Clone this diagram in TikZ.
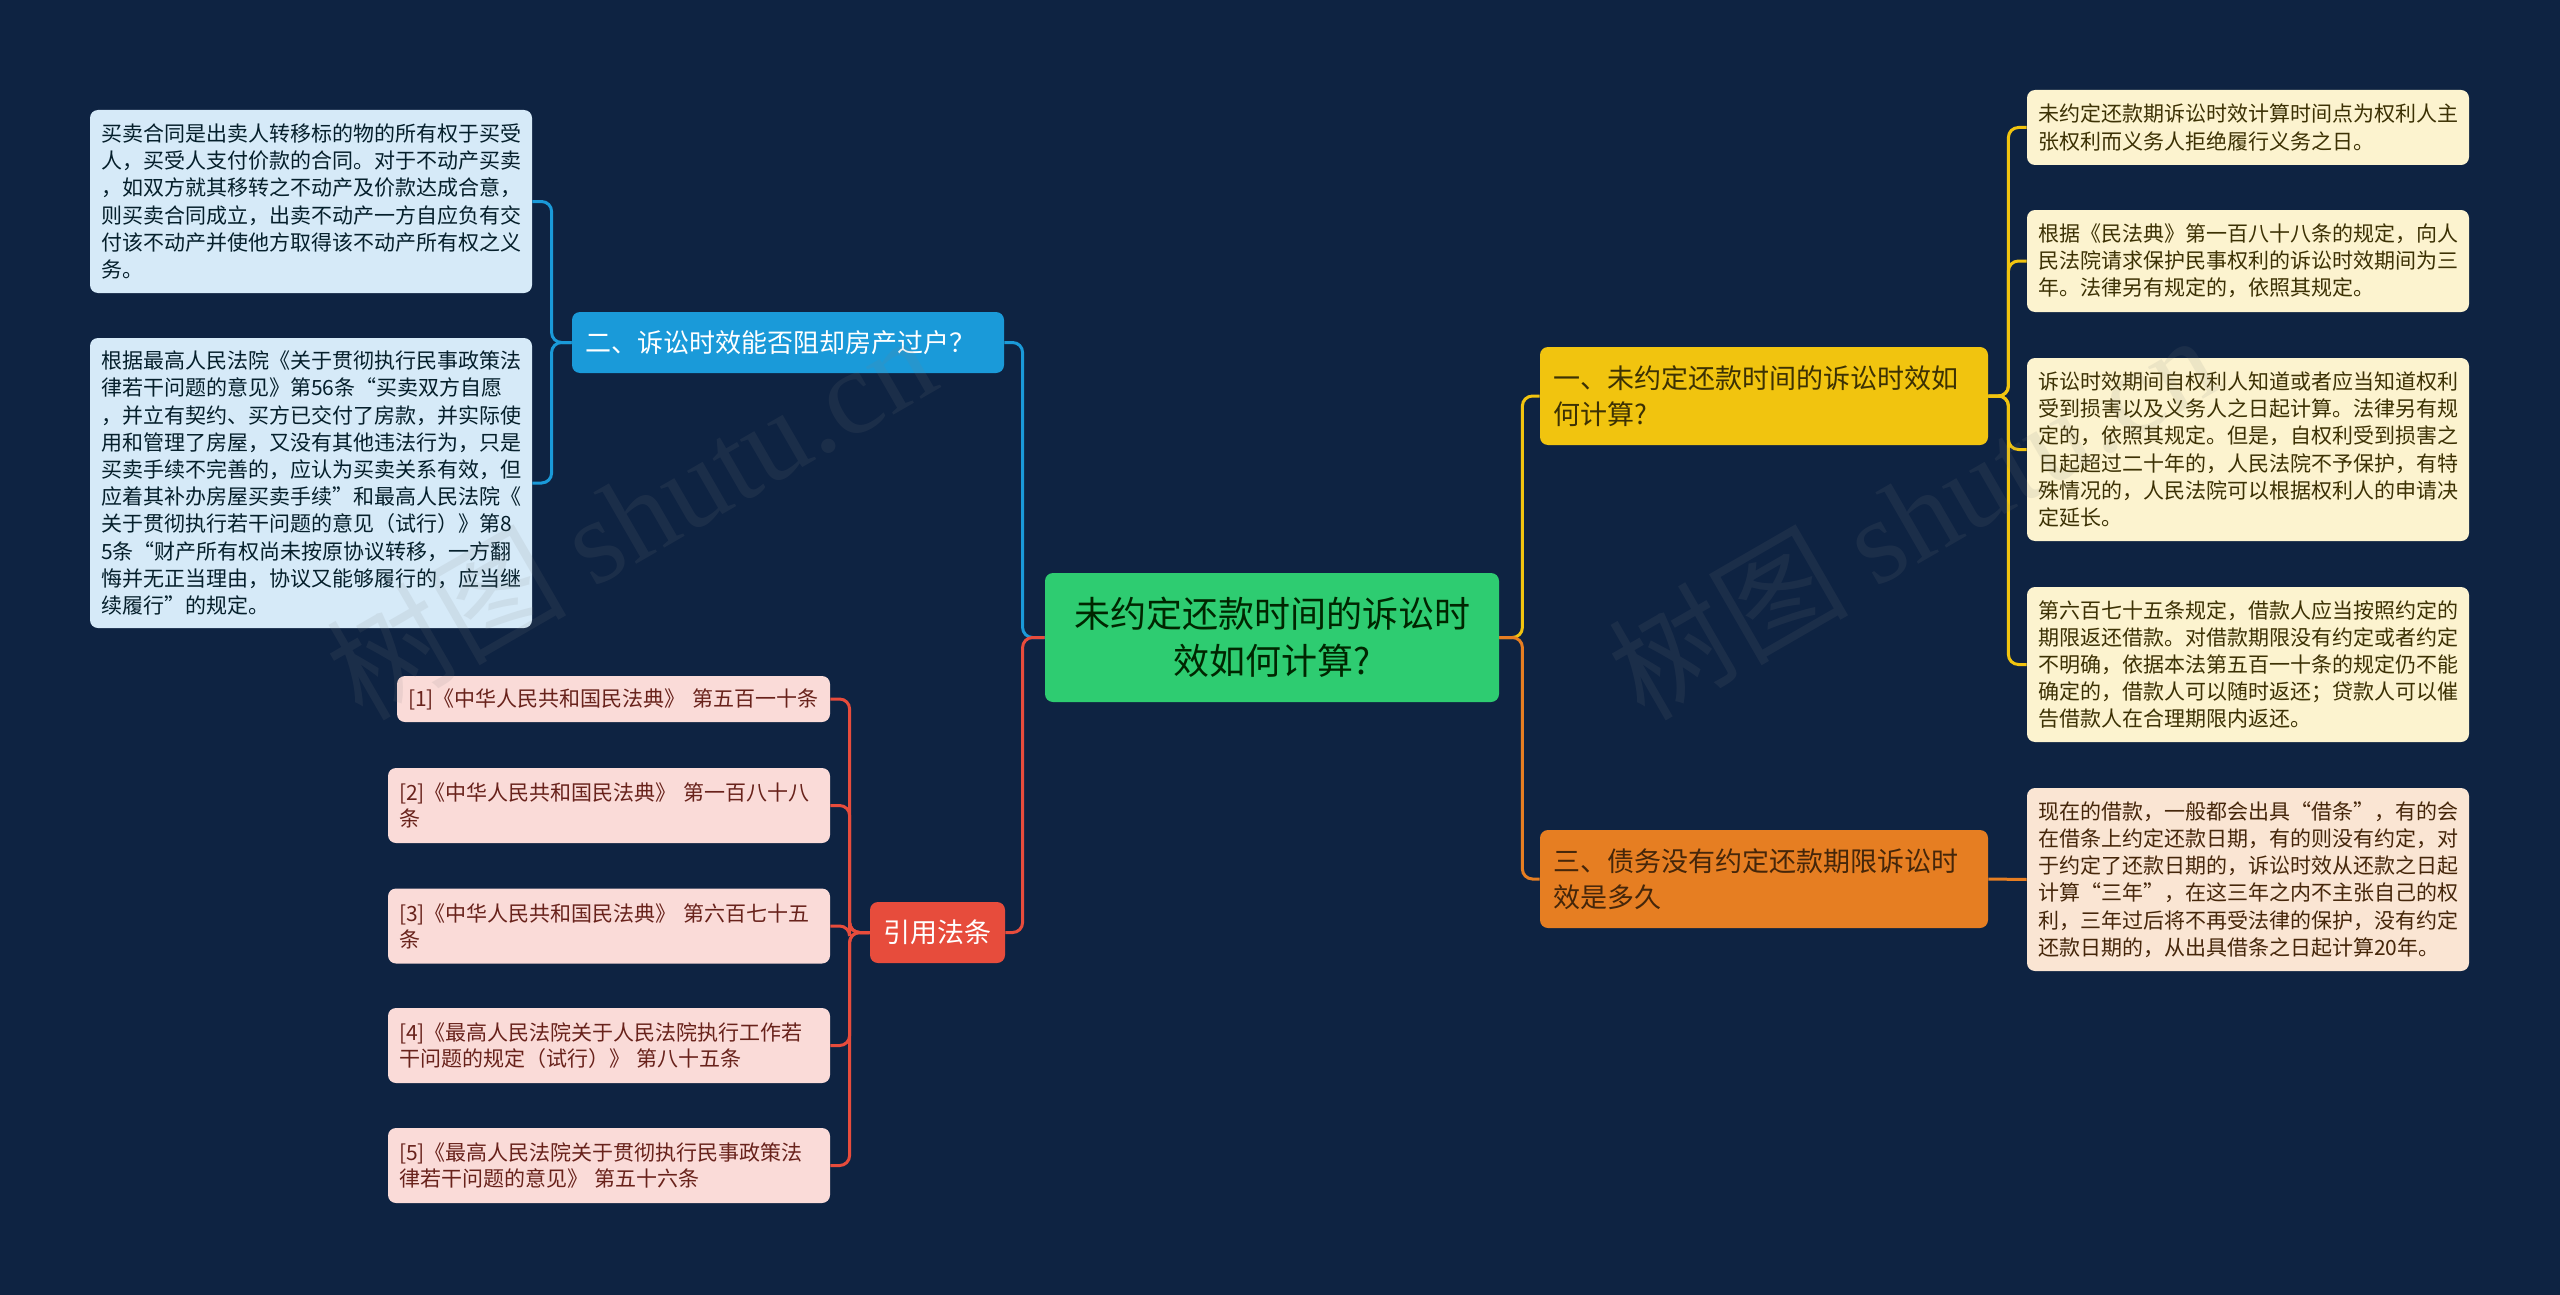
\documentclass[tikz,border=0pt]{standalone}
\usepackage{fontspec}
\setmainfont{Noto Sans CJK SC}
\newfontfamily\wmfont{Liberation Serif}
\usetikzlibrary{positioning}

\definecolor{fondo}{HTML}{0E2342}
\definecolor{verde}{HTML}{2ECC71}
\definecolor{amarillo}{HTML}{F1C40F}
\definecolor{naranja}{HTML}{E67E22}
\definecolor{azul}{HTML}{1A9AD9}
\definecolor{rojo}{HTML}{E74C3C}
\definecolor{hojaY}{HTML}{FCF3CF}
\definecolor{hojaN}{HTML}{FAE5D3}
\definecolor{hojaA}{HTML}{D6EAF8}
\definecolor{hojaR}{HTML}{FADBD8}

\tikzset{
  caja/.style={rounded corners=4pt, inner ysep=0pt, align=left},
  hoja/.style={caja, inner xsep=5.5pt, text width=210pt, minimum width=221pt,
    font=\fontsize{10.5}{13.6}\selectfont},
  cita/.style={caja, fill=hojaR, text=rojo!45!black, inner xsep=5.5pt,
    text width=210pt, minimum width=221pt, font=\fontsize{10.5}{13}\selectfont},
  rama/.style={caja, inner xsep=6.5pt, font=\fontsize{13.5}{18}\selectfont},
  linea/.style={line width=1.5pt, rounded corners=5pt},
}

\begin{document}
\begin{tikzpicture}[x=0.5pt,y=-0.5pt]
\useasboundingbox[fill=fondo] (0,0) rectangle (2560,1295);

% Tema central
\node[caja, fill=verde, text=green!15!black, align=center, inner xsep=0pt,
  minimum width=227pt, minimum height=64.5pt,
  font=\fontsize{18}{23.5}\selectfont] (tema) at (1272,637.5)
  {未约定还款时间的诉讼时\\效如何计算?};

% Ramas
\node[rama, fill=amarillo, text=amarillo!25!black, text width=211pt,
  minimum height=49pt] (uno) at (1764,396)
  {一、未约定还款时间的诉讼时效如\\何计算?};
\node[rama, fill=naranja, text=naranja!30!black, text width=211pt,
  minimum height=49pt] (tres) at (1764,879)
  {三、债务没有约定还款期限诉讼时\\效是多久};
\node[rama, fill=azul, text=white, text width=203pt, minimum height=30.5pt,
  font=\fontsize{13}{18}\selectfont] (dos) at (788,342.5)
  {二、诉讼时效能否阻却房产过户？};
\node[rama, fill=rojo, text=white, align=center, inner xsep=0pt,
  minimum width=67.5pt, minimum height=30.5pt] (ley) at (937.5,932.5)
  {引用法条};

% Hojas de la rama uno
\node[hoja, fill=hojaY, text=amarillo!25!black, minimum height=37.5pt] (u1) at (2248,127.5)
  {未约定还款期诉讼时效计算时间点为权利人主\\张权利而义务人拒绝履行义务之日。};
\node[hoja, fill=hojaY, text=amarillo!25!black, minimum height=51pt] (u2) at (2248,261)
  {根据《民法典》第一百八十八条的规定，向人\\民法院请求保护民事权利的诉讼时效期间为三\\年。法律另有规定的，依照其规定。};
\node[hoja, fill=hojaY, text=amarillo!25!black, minimum height=91.5pt] (u3) at (2248,449.5)
  {诉讼时效期间自权利人知道或者应当知道权利\\受到损害以及义务人之日起计算。法律另有规\\定的，依照其规定。但是，自权利受到损害之\\日起超过二十年的，人民法院不予保护，有特\\殊情况的，人民法院可以根据权利人的申请决\\定延长。};
\node[hoja, fill=hojaY, text=amarillo!25!black, minimum height=77.5pt] (u4) at (2248,664.5)
  {第六百七十五条规定，借款人应当按照约定的\\期限返还借款。对借款期限没有约定或者约定\\不明确，依据本法第五百一十条的规定仍不能\\确定的，借款人可以随时返还；贷款人可以催\\告借款人在合理期限内返还。};

% Hoja de la rama tres
\node[hoja, fill=hojaN, text=naranja!30!black, minimum height=91.5pt] (t1) at (2248,879.5)
  {现在的借款，一般都会出具“借条”，有的会\\在借条上约定还款日期，有的则没有约定，对\\于约定了还款日期的，诉讼时效从还款之日起\\计算“三年”，在这三年之内不主张自己的权\\利，三年过后将不再受法律的保护，没有约定\\还款日期的，从出具借条之日起计算20年。};

% Hojas de la rama dos
\node[hoja, fill=hojaA, text=azul!20!black, minimum height=91.5pt] (d1) at (311,201.5)
  {买卖合同是出卖人转移标的物的所有权于买受\\人，买受人支付价款的合同。对于不动产买卖\\，如双方就其移转之不动产及价款达成合意，\\则买卖合同成立，出卖不动产一方自应负有交\\付该不动产并使他方取得该不动产所有权之义\\务。};
\node[hoja, fill=hojaA, text=azul!20!black, minimum height=145pt] (d2) at (311,483)
  {根据最高人民法院《关于贯彻执行民事政策法\\律若干问题的意见》第56条“买卖双方自愿\\，并立有契约、买方已交付了房款，并实际使\\用和管理了房屋，又没有其他违法行为，只是\\买卖手续不完善的，应认为买卖关系有效，但\\应着其补办房屋买卖手续”和最高人民法院《\\关于贯彻执行若干问题的意见（试行）》第8\\5条“财产所有权尚未按原协议转移，一方翻\\悔并无正当理由，协议又能够履行的，应当继\\续履行”的规定。};

% Citas
\node[cita, text width=205.5pt, minimum width=216.5pt, minimum height=23pt] (c1) at (613.5,699)
  {[1]《中华人民共和国民法典》 第五百一十条};
\node[cita, minimum height=37.5pt] (c2) at (609,805.5)
  {[2]《中华人民共和国民法典》 第一百八十八\\条};
\node[cita, minimum height=37.5pt] (c3) at (609,926)
  {[3]《中华人民共和国民法典》 第六百七十五\\条};
\node[cita, minimum height=37.5pt] (c4) at (609,1045.5)
  {[4]《最高人民法院关于人民法院执行工作若\\干问题的规定（试行）》 第八十五条};
\node[cita, minimum height=37.5pt] (c5) at (609,1165.5)
  {[5]《最高人民法院关于贯彻执行民事政策法\\律若干问题的意见》 第五十六条};

% Conectores
\draw[linea, amarillo] (tema.east) -- ++(23,0) |- (uno.west);
\draw[linea, naranja] (tema.east) -- ++(23,0) |- (tres.west);
\draw[linea, azul] (tema.west) -- ++(-22,0) |- (dos.east);
\draw[linea, rojo] (tema.west) -- ++(-22,0) |- (ley.east);
\foreach \h in {u1,u2,u3,u4} {
  \draw[linea, amarillo] (uno.east) -- ++(20,0) |- (\h.west);
}
\draw[linea, naranja] (tres.east) -- (t1.west);
\foreach \h in {d1,d2} {
  \draw[linea, azul] (dos.west) -- ++(-20,0) |- (\h.east);
}
\foreach \h in {c1,c2,c3,c4,c5} {
  \draw[linea, rojo] (ley.west) -- ++(-20,0) |- (\h.east);
}

% Marca de agua
\foreach \p in {(630,515),(1912,515)} {
  \node[rotate=30, text=gray, opacity=0.12, font=\fontsize{60}{60}\selectfont] at \p
    {树图 {\wmfont shutu.cn}};
}
\end{tikzpicture}
\end{document}
